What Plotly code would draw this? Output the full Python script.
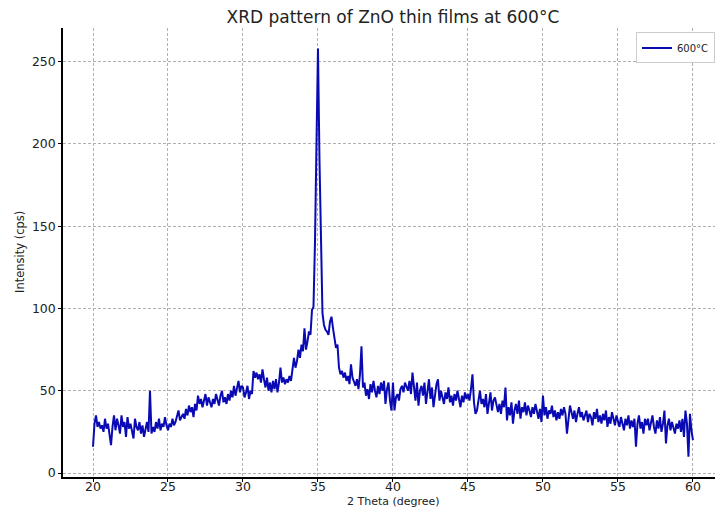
import numpy as np
import plotly.graph_objects as go

# 2-theta scan, 20° to 60° in 0.1° steps
two_theta = np.round(np.arange(20.0, 60.0001, 0.1), 1)

# Intensity (cps), one row per degree (10 readings each) plus the final 60.0° point
intensity_rows = [
    [16, 30, 35, 28, 31, 27, 29, 25, 33, 27],   # 20
    [30, 24, 17, 28, 35, 26, 33, 29, 24, 35],   # 21
    [28, 31, 22, 34, 27, 30, 25, 21, 33, 28],   # 22
    [26, 31, 24, 29, 22, 27, 31, 25, 50, 24],   # 23
    [28, 25, 31, 27, 33, 26, 30, 28, 34, 29],   # 24
    [26, 30, 28, 33, 29, 31, 35, 38, 32, 34],   # 25
    [36, 33, 39, 35, 41, 37, 40, 34, 42, 38],   # 26
    [47, 42, 45, 40, 44, 48, 41, 46, 43, 40],   # 27
    [45, 42, 48, 44, 41, 47, 50, 43, 46, 42],   # 28
    [48, 44, 50, 46, 53, 47, 51, 56, 49, 53],   # 29
    [52, 46, 49, 53, 45, 50, 48, 62, 58, 61],   # 30
    [57, 60, 55, 63, 57, 52, 58, 50, 55, 49],   # 31
    [56, 51, 57, 49, 55, 64, 55, 58, 54, 57],   # 32
    [55, 59, 56, 62, 70, 64, 68, 75, 70, 78],   # 33
    [74, 88, 75, 80, 86, 84, 99, 101, 140, 200],  # 34
    [258, 190, 130, 97, 90, 87, 86, 84, 92, 95],  # 35
    [88, 80, 76, 78, 64, 60, 62, 58, 61, 56],   # 36
    [59, 54, 66, 58, 55, 53, 57, 51, 60, 77],   # 37
    [52, 55, 47, 51, 45, 54, 49, 56, 50, 46],   # 38
    [53, 48, 55, 50, 56, 42, 51, 55, 44, 38],   # 39
    [55, 38, 46, 48, 44, 51, 53, 49, 55, 52],   # 40
    [50, 56, 48, 61, 52, 44, 55, 41, 50, 53],   # 41
    [47, 55, 42, 50, 57, 45, 52, 40, 48, 54],   # 42
    [57, 44, 50, 46, 42, 49, 45, 52, 43, 47],   # 43
    [41, 48, 44, 50, 46, 40, 47, 43, 49, 45],   # 44
    [48, 44, 51, 60, 43, 36, 38, 46, 50, 42],   # 45
    [45, 40, 48, 36, 43, 49, 38, 44, 46, 40],   # 46
    [37, 42, 36, 44, 40, 52, 32, 40, 35, 43],   # 47
    [30, 38, 42, 36, 44, 33, 40, 37, 43, 35],   # 48
    [41, 38, 34, 40, 36, 42, 37, 33, 39, 31],   # 49
    [47, 35, 40, 33, 38, 36, 41, 34, 38, 32],   # 50
    [37, 33, 39, 35, 40, 36, 24, 34, 41, 37],   # 51
    [33, 38, 31, 36, 40, 34, 37, 32, 35, 38],   # 52
    [31, 36, 34, 29, 37, 33, 39, 31, 35, 30],   # 53
    [36, 32, 38, 28, 34, 30, 37, 33, 29, 35],   # 54
    [31, 28, 34, 30, 26, 33, 29, 35, 27, 32],   # 55
    [28, 33, 16, 30, 35, 27, 31, 24, 33, 29],   # 56
    [33, 26, 30, 35, 28, 24, 32, 27, 34, 25],   # 57
    [30, 38, 18, 29, 33, 26, 31, 28, 24, 30],   # 58
    [27, 32, 25, 33, 22, 38, 30, 10, 36, 26],   # 59
    [20],                                        # 60
]
intensity = [v for row in intensity_rows for v in row]

x_ticks = [20, 25, 30, 35, 40, 45, 50, 55, 60]
y_ticks = [0, 50, 100, 150, 200, 250]

FONT = "DejaVu Sans"
TEXT = "#222222"

fig = go.Figure()
fig.add_trace(go.Scatter(
    x=two_theta, y=intensity, mode="lines", name="600°C",
    line=dict(color="#0a0ab4", width=2),
))

fig.update_layout(
    width=715, height=508,
    margin=dict(l=63, r=0, t=28, b=31),
    paper_bgcolor="white", plot_bgcolor="white",
    font=dict(family=FONT, color=TEXT),
    title=dict(
        text="XRD pattern of ZnO thin films at 600°C",
        font=dict(family=FONT, size=17, color=TEXT),
        xref="paper", x=0.506, xanchor="center",
        yref="container", y=1 - 17 / 508, yanchor="middle",
    ),
    showlegend=True,
    legend=dict(
        x=1.0, xanchor="right", y=0.99, yanchor="top",
        bgcolor="white", bordercolor="#cccccc", borderwidth=1,
        font=dict(family=FONT, size=10, color=TEXT),
        itemwidth=30, tracegroupgap=0,
    ),
)

fig.update_xaxes(
    range=[18.0, 61.47], tickvals=x_ticks,
    showline=True, linecolor="black", linewidth=1.5, mirror=False,
    ticks="outside", ticklen=3, tickcolor="black",
    ticklabelstandoff=-6,
    tickfont=dict(family=FONT, size=12.5, color=TEXT),
    showgrid=True, gridcolor="#b0b0b0", gridwidth=0.8, griddash="3px,2px",
    zeroline=False,
)
fig.update_yaxes(
    range=[-2.4, 270.4], tickvals=y_ticks,
    showline=True, linecolor="black", linewidth=1.5, mirror=False,
    ticks="outside", ticklen=3, tickcolor="black",
    tickfont=dict(family=FONT, size=12.5, color=TEXT),
    showgrid=True, gridcolor="#b0b0b0", gridwidth=0.8, griddash="3px,2px",
    zeroline=False,
)

# Axis titles
fig.add_annotation(
    text="2 Theta (degree)", xref="paper", yref="paper",
    x=(393 - 63) / 652, y=-(502 - 477) / 449, xanchor="center", yanchor="middle",
    showarrow=False, font=dict(family=FONT, size=11, color=TEXT),
)
fig.add_annotation(
    text="Intensity (cps)", xref="paper", yref="paper",
    x=-(63 - 20) / 652, y=(477 - 252) / 449, xanchor="center", yanchor="middle",
    textangle=-90, showarrow=False, font=dict(family=FONT, size=11.5, color=TEXT),
)

fig.write_html("out.html")
